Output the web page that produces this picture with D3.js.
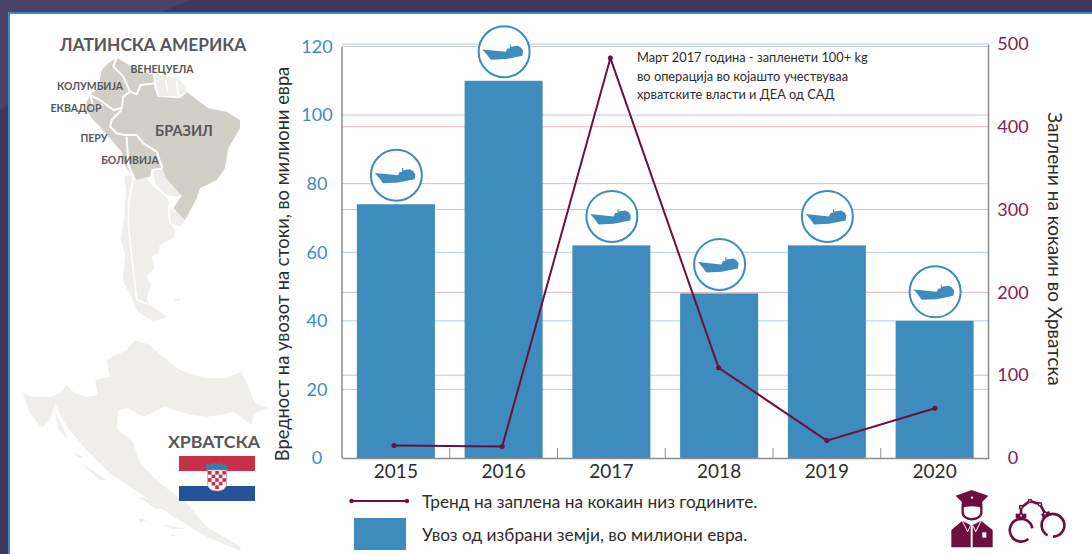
<!DOCTYPE html>
<html>
<head>
<meta charset="utf-8">
<script src="https://cdnjs.cloudflare.com/ajax/libs/d3/7.8.5/d3.min.js"></script>
<style>
html, body { margin: 0; padding: 0; background: #fff; }
svg { display: block; font-family: Lato, "Open Sans", sans-serif; }
.axis .domain { stroke: #8c8c8c; stroke-width: 1.5; }
.axis text { font-family: Lato, sans-serif; }
</style>
</head>
<body>
<div class="chart"></div>
<script>
const WIDTH = 1092;
const HEIGHT = 554;

var years = ["2015", "2016", "2017", "2018", "2019", "2020"];
var importValues = [74, 110, 62, 48, 62, 40];
var seizureValues = [15, 14, 483, 109, 21, 60];
var leftTicks = [0, 20, 40, 60, 80, 100, 120];
var rightTicks = [0, 100, 200, 300, 400, 500];
var noteLines = [
    "Март 2017 година - запленети 100+ kg",
    "во операција во којашто учествуваа",
    "хрватските власти и ДЕА од САД"
];
var mapLabels = [
    {"text": "ВЕНЕЦУЕЛА", "x": 162, "y": 73, "size": 10.5},
    {"text": "КОЛУМБИЈА", "x": 90, "y": 90, "size": 10.5},
    {"text": "ЕКВАДОР", "x": 76, "y": 112, "size": 10.5},
    {"text": "ПЕРУ", "x": 94, "y": 142, "size": 10.5},
    {"text": "БОЛИВИЈА", "x": 130, "y": 164, "size": 10.5},
    {"text": "БРАЗИЛ", "x": 184, "y": 136, "size": 14.5}
];

const BLUE = "#3e8bbd";
const WINE = "#6d0f3e";
const TICK_WINE = "#7f2350";
const MAP_LIGHT = "#efeeea";
const MAP_DARK = "#d2cfc7";

var x = d3.scaleBand().domain(years).range([342, 988.5]).paddingInner(0.276).paddingOuter(0.138);
var xLine = d3.scalePoint().domain(years).range([394, 935]);
var yLeft = d3.scaleLinear().domain([0, 120]).range([458, 46.5]);
var yRight = d3.scaleLinear().domain([0, 500]).range([458, 44]);
var xCenter = function (year) { return x(year) + x.bandwidth() / 2; };

var svg = d3.select(".chart").append("svg").attr("width", WIDTH).attr("height", HEIGHT);

function drawFrame() {
    svg.append("rect").attr("width", WIDTH).attr("height", 13).attr("fill", "#3f375c");
    svg.append("rect").attr("width", 8).attr("height", HEIGHT).attr("fill", "#3f375c");
    svg.append("path").attr("d", "M0,0H190L160,13H8V105L0,110Z").attr("fill", "#4a4268");
    svg.append("rect").attr("x", 8).attr("y", 12).attr("width", WIDTH - 8).attr("height", 2).attr("fill", BLUE);
    svg.append("rect").attr("x", 8).attr("y", 12).attr("width", 2).attr("height", HEIGHT - 12).attr("fill", BLUE);
}

function drawMaps() {
    // outlines traced by eye from 3x crops
    var smooth = d3.line().curve(d3.curveCardinalClosed.tension(0.6));
    var south = svg.append("g").attr("transform", "translate(110,170) scale(0.3333)");
    south.append("path").attr("fill", MAP_LIGHT)
        .attr("d", smooth([[45, 20], [100, 20], [130, 45], [165, 75], [178, 100], [176, 155], [195, 180], [190, 205], [150, 225], [147, 250], [125, 258], [132, 295], [110, 320], [122, 345], [110, 385], [118, 402], [168, 440], [130, 452], [85, 425], [62, 375], [38, 330], [46, 260], [34, 210], [44, 130], [48, 60]]));
    south.append("path").attr("fill", MAP_LIGHT)
        .attr("d", "M130,0H168L172,30L215,70L200,82L170,78L135,40Z");
    south.append("path").attr("fill", MAP_LIGHT)
        .attr("d", "M180,115L225,145L215,170L180,160Z M190,388L212,384L205,395Z");
    south.append("path").attr("fill", "none").attr("stroke", "#fff").attr("stroke-width", 5).attr("stroke-linejoin", "round")
        .attr("d", "M70,22L56,100L56,180L70,300L80,390L115,402 M125,2L130,45L170,78L200,82 M175,105L180,160");

    var north = svg.append("g").attr("transform", "translate(80,55) scale(0.3333)");
    north.append("path").attr("fill", MAP_LIGHT)
        .attr("d", "M222,55L245,60L300,75L315,95L322,112L295,122L235,124L222,95Z");
    north.append("path").attr("fill", MAP_DARK)
        .attr("d", "M110,8L85,25L65,45L60,70L62,95L35,115L20,140L20,165L35,190L60,215L90,250L125,290L135,330L165,375L210,365L215,342L245,338L258,370L305,422L280,460L315,495L350,430L360,400L410,375L435,340L445,280L480,220L480,195L440,170L385,160L345,130L322,112L300,130L235,125L222,95L225,60L180,50L155,35Z");
    north.append("path").attr("fill", "none").attr("stroke", "#fff").attr("stroke-width", 6).attr("stroke-linejoin", "round")
        .attr("d", "M110,8L100,35L130,65L150,110L170,118L182,90L225,85 M30,120L65,138L100,165L125,160L130,125L150,110 M125,165L95,195L90,215L110,235L135,240L170,240L190,265L230,290L240,320L248,340 M140,245L145,330L165,375 M32,122L40,160L68,148 M222,60L226,95L236,125 M290,78L295,120 M258,75L262,110");

    var croatia = svg.append("g").attr("transform", "translate(0,280) scale(0.3333)");
    croatia.append("path").attr("fill", MAP_LIGHT)
        .attr("d", "M68,340L100,350L120,350L150,352L180,340L198,315L225,340L260,350L295,345L285,300L330,290L320,240L350,225L380,210L405,180L450,195L475,220L500,240L540,270L580,285L620,295L680,295L725,275L745,320L765,370L805,385L760,400L755,435L700,395L660,405L620,410L580,405L540,395L495,380L460,395L430,410L385,385L355,390L350,445L380,470L400,490L420,550L480,610L560,670L620,740L722,800L720,812L620,770L520,710L420,640L330,580L260,510L200,440L165,370L150,420L125,445L90,400Z");
    croatia.append("path").attr("fill", MAP_LIGHT)
        .attr("d", "M165,395L190,445L205,480L175,450Z M215,515L250,530L240,535Z M245,550L320,600L300,600Z M415,650L480,665L520,680L470,688Z M415,715L440,720L420,728Z M490,735L560,745L520,748Z M515,762L530,765L515,770Z");
}

function drawMapText() {
    svg.append("text").attr("x", 153).attr("y", 51).attr("text-anchor", "middle")
        .attr("font-size", 17.3).attr("font-weight", 700).attr("fill", "#58585a").text("ЛАТИНСКА АМЕРИКА");
    svg.append("text").attr("x", 214).attr("y", 448).attr("text-anchor", "middle")
        .attr("font-size", 17.8).attr("font-weight", 700).attr("fill", "#58585a").text("ХРВАТСКА");
    svg.selectAll(".map-label").data(mapLabels).enter().append("text")
        .attr("class", "map-label")
        .attr("x", function (d) { return d.x; })
        .attr("y", function (d) { return d.y; })
        .attr("font-size", function (d) { return d.size; })
        .attr("text-anchor", "middle").attr("font-weight", 700).attr("fill", "#58585a")
        .text(function (d) { return d.text; });
}

function drawFlag() {
    var flag = svg.append("g").attr("transform", "translate(179,456)");
    flag.append("rect").attr("width", 76).attr("height", 15).attr("fill", "#c8304a");
    flag.append("rect").attr("y", 30).attr("width", 76).attr("height", 15).attr("fill", "#25539b");
    flag.append("path").attr("d", "M27,7L31,9L34,7L38,8L41,7L44,9L48,8L49,14H27Z").attr("fill", "#3a7fa8");
    flag.append("path").attr("d", "M28.500,14H47.500V27Q47.500,35 38,35Q28.500,35 28.500,27Z").attr("fill", "#fff").attr("stroke", "#d96a7d").attr("stroke-width", 0.6);
    var size = 3.6;
    d3.range(5).forEach(function (row) {
        d3.range(5).forEach(function (col) {
            if ((row + col) % 2 === 0 && !(row === 4 && (col === 0 || col === 4))) {
                flag.append("rect").attr("x", 29 + col * size).attr("y", 15 + row * size)
                    .attr("width", size).attr("height", size).attr("fill", "#c8304a");
            }
        });
    });
}

function drawGrid() {
    var g = svg.append("g");
    g.selectAll(".grid-right").data(rightTicks.slice(1)).enter().append("line")
        .attr("x1", 342).attr("x2", 988)
        .attr("y1", function (d) { return yRight(d); })
        .attr("y2", function (d) { return yRight(d); })
        .attr("stroke", "#e6b4c1").attr("stroke-width", 1);
    g.selectAll(".grid-left").data(leftTicks.slice(1)).enter().append("line")
        .attr("x1", 342).attr("x2", 988)
        .attr("y1", function (d) { return yLeft(d); })
        .attr("y2", function (d) { return yLeft(d); })
        .attr("stroke", "#aed2e2").attr("stroke-width", 1);
}

function drawBars() {
    svg.append("g").selectAll("rect").data(importValues).enter().append("rect")
        .attr("x", function (d, i) { return x(years[i]); })
        .attr("y", function (d) { return yLeft(d); })
        .attr("width", x.bandwidth())
        .attr("height", function (d) { return yLeft(0) - yLeft(d); })
        .attr("fill", BLUE);
}

function drawAxes() {
    var xAxisG = svg.append("g").attr("class", "axis").attr("transform", "translate(0,458)")
        .call(d3.axisBottom(x).tickSize(0).tickPadding(7));
    xAxisG.selectAll("text").attr("font-size", 19).attr("fill", "#2d2d2d");

    // small inner ticks between the bars
    var gap = x.step() - x.bandwidth();
    xAxisG.selectAll(".sep").data(years.slice(1)).enter().append("line")
        .attr("x1", function (d) { return x(d) - gap / 2; })
        .attr("x2", function (d) { return x(d) - gap / 2; })
        .attr("y1", -10).attr("y2", 0)
        .attr("stroke", "#8c8c8c");

    var leftG = svg.append("g").attr("class", "axis").attr("transform", "translate(341.5,0)")
        .call(d3.axisLeft(yLeft).tickValues(leftTicks).tickSize(0));
    leftG.selectAll("text").attr("font-size", 18).attr("fill", BLUE)
        .attr("text-anchor", "middle").attr("x", -24.5);

    var rightG = svg.append("g").attr("class", "axis").attr("transform", "translate(988,0)")
        .call(d3.axisRight(yRight).tickValues(rightTicks).tickSize(0));
    rightG.selectAll("text").attr("font-size", 18).attr("fill", TICK_WINE)
        .attr("text-anchor", "middle").attr("x", 25);

    svg.append("text").attr("transform", "translate(289,264) rotate(-90)").attr("text-anchor", "middle")
        .attr("font-size", 18.3).attr("fill", "#2d2d2d").text("Вредност на увозот на стоки, во милиони евра");
    svg.append("text").attr("transform", "translate(1048,249) rotate(90)").attr("text-anchor", "middle")
        .attr("font-size", 19).attr("fill", "#2d2d2d").text("Заплени на кокаин во Хрватска");
}

function drawShips() {
    var ships = svg.append("g").selectAll("g").data(importValues).enter().append("g")
        .attr("transform", function (d, i) {
            return "translate(" + (xCenter(years[i]) + 0.5) + "," + (yLeft(d) - 29) + ")";
        });
    ships.append("circle").attr("r", 25.5).attr("fill", "#fff").attr("stroke", BLUE).attr("stroke-width", 2);
    ships.append("path").attr("fill", BLUE)
        .attr("d", "M-21.700,-2.300L1.700,0L3.300,-3.300L5.700,-3.300L5.700,-7.300L6.700,-7.300L6.700,-5L13.300,-6L16.700,-4.300L19,-1L18.300,4L1.700,7.300L-13.300,8L-17.300,2.700Z");
}

function drawSeizures() {
    var line = d3.line()
        .x(function (d, i) { return xLine(years[i]); })
        .y(function (d) { return yRight(d); });
    svg.append("path").attr("d", line(seizureValues)).attr("fill", "none")
        .attr("stroke", WINE).attr("stroke-width", 2);
    svg.append("g").selectAll("circle").data(seizureValues).enter().append("circle")
        .attr("cx", function (d, i) { return xLine(years[i]); })
        .attr("cy", function (d) { return yRight(d); })
        .attr("r", 2.5).attr("fill", WINE);
}

function drawNote() {
    svg.append("g").selectAll("text").data(noteLines).enter().append("text")
        .attr("x", 637)
        .attr("y", function (d, i) { return 62 + i * 18.5; })
        .attr("font-size", 12.8).attr("fill", "#2d2d2d")
        .text(function (d) { return d; });
}

function drawLegend() {
    var legend = svg.append("g");
    legend.append("line").attr("x1", 351.5).attr("x2", 407).attr("y1", 501).attr("y2", 501)
        .attr("stroke", WINE).attr("stroke-width", 2);
    legend.selectAll("circle").data([351.5, 407]).enter().append("circle")
        .attr("cx", function (d) { return d; }).attr("cy", 501).attr("r", 2.2).attr("fill", WINE);
    legend.append("rect").attr("x", 354).attr("y", 518).attr("width", 52).attr("height", 32).attr("fill", BLUE);
    legend.append("text").attr("x", 422).attr("y", 508).attr("font-size", 17.3).attr("fill", "#2d2d2d")
        .text("Тренд на заплена на кокаин низ годините.");
    legend.append("text").attr("x", 422).attr("y", 541).attr("font-size", 17.3).attr("fill", "#2d2d2d")
        .text("Увоз од избрани земји, во милиони евра.");
}

function drawIcons() {
    var icon = svg.append("g").attr("transform", "translate(945,485) scale(0.3333)");
    icon.append("path").attr("fill", "#fff").attr("stroke", WINE).attr("stroke-width", 7)
        .attr("d", "M53,60V85Q56,101 80,103Q106,101 109,85V60Z");
    icon.append("path").attr("fill", WINE)
        .attr("d", "M32,32L80,15L130,32L112,50L110,68Q80,58 52,68L50,50Z");
    icon.append("circle").attr("cx", 81).attr("cy", 38).attr("r", 3.5).attr("fill", "#fff");
    icon.append("path").attr("fill", WINE)
        .attr("d", "M19,135L52,107L80,122L108,107L143,135L143,187H19Z");
    icon.append("path").attr("fill", "none").attr("stroke", "#fff").attr("stroke-width", 3)
        .attr("d", "M52,108L68,140L76,122 M108,108L92,140L84,122");
    icon.append("rect").attr("x", 77).attr("y", 122).attr("width", 6).attr("height", 65).attr("fill", "#fff");
    icon.append("rect").attr("x", 112).attr("y", 142).attr("width", 12).attr("height", 16).attr("fill", "#fff");

    var cuffs = icon.append("g").attr("fill", "none").attr("stroke", WINE).attr("stroke-width", 8);
    cuffs.append("path").attr("d", "M250,162A34,34 0 1 1 262,130");
    cuffs.append("path").attr("d", "M308,151A34,34 0 1 1 324,155");
    cuffs.append("path").attr("d", "M228,100L228,68L255,48L285,58L303,90");
    icon.append("rect").attr("x", 212).attr("y", 86).attr("width", 32).attr("height", 14).attr("fill", WINE);
    icon.append("rect").attr("x", 290).attr("y", 82).attr("width", 26).attr("height", 14).attr("fill", WINE)
        .attr("transform", "rotate(-20 303 89)");
    [[228, 92], [228, 66], [255, 48], [285, 58], [300, 86]].forEach(function (p) {
        icon.append("circle").attr("cx", p[0]).attr("cy", p[1]).attr("r", 7).attr("fill", WINE);
        icon.append("circle").attr("cx", p[0]).attr("cy", p[1]).attr("r", 2.5).attr("fill", "#fff");
    });
}

drawFrame();
drawMaps();
drawMapText();
drawFlag();
drawGrid();
drawBars();
drawSeizures();
drawAxes();
drawShips();
drawNote();
drawLegend();
drawIcons();
</script>
</body>
</html>
